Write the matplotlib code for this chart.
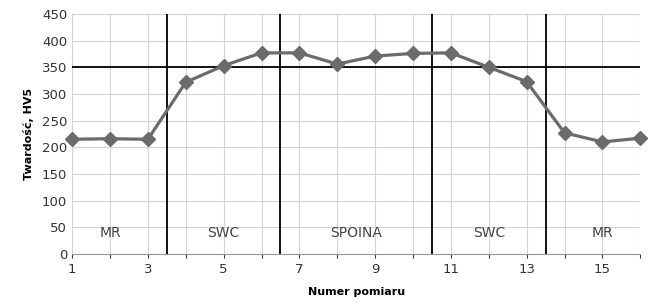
import matplotlib
matplotlib.use('Agg')
from matplotlib import pyplot as plt

# dane pomiarowe
pomiary = list(range(1, 17))
twardosc = [215, 216, 215, 322, 353, 377, 377, 356, 371, 376, 377, 350, 323, 227, 210, 217]
granice = [3.5, 6.5, 10.5, 13.5]
strefy = ['MR', 'SWC', 'SPOINA', 'SWC', 'MR']
strefy_x = [2, 5, 8.5, 12, 15]
prog = 350

fig = plt.figure(figsize=(6.56, 3.03), dpi=100)
ax = fig.add_axes([0.110, 0.162, 0.866, 0.792])

ax.plot(pomiary, twardosc, c='#6b6b6b', lw=2.3, marker='D', ms=7, zorder=5, clip_on=False)
ax.axhline(prog, c='black', lw=1.3, zorder=4)
for g in granice:
    ax.axvline(g, c='black', lw=1.3, zorder=4)
for s, sx in zip(strefy, strefy_x):
    ax.text(sx, 40, s, ha='center', va='center', fontsize=10, color='#444444')

ax.set_xlim(1, 16)
ax.set_ylim(0, 450)
ax.set_xticks(pomiary)
ax.set_xticklabels([str(p) if p % 2 == 1 else '' for p in pomiary])
ax.set_yticks(range(0, 451, 50))
ax.grid(True, color='#d4d4d4', lw=0.8)
ax.set_axisbelow(True)
for s in ['top', 'right', 'left']:
    ax.spines[s].set_visible(False)
ax.spines['bottom'].set_color('#999999')
ax.tick_params(axis='both', labelsize=9.5, colors='#333333', length=3)
ax.tick_params(axis='y', length=0)
ax.set_xlabel('Numer pomiaru', fontsize=8, fontweight='bold', labelpad=8)
ax.set_ylabel('Twardość, HV5', fontsize=8, fontweight='bold', labelpad=6)

plt.savefig('out.png', dpi=100)
